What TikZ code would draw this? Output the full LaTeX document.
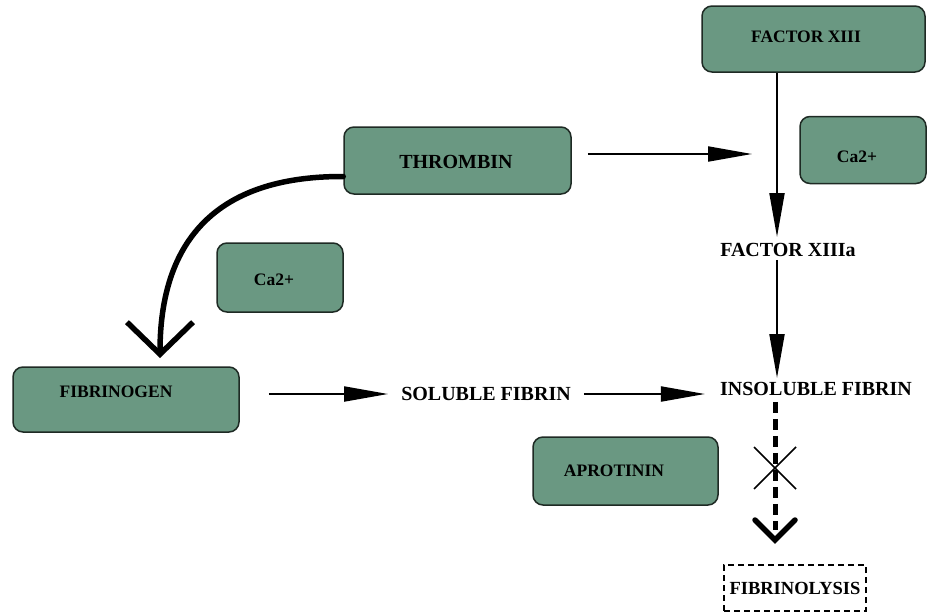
\documentclass[tikz,border=0pt]{standalone}
\usepackage{fontspec}
\setmainfont{Liberation Serif}
\usetikzlibrary{arrows.meta,calc}
\definecolor{boxgreen}{RGB}{106,152,130}
\definecolor{boxedge}{RGB}{30,42,36}
\begin{document}
\begin{tikzpicture}[x=1pt,y=-1pt,
  gbox/.style={draw=boxedge,fill=boxgreen,line width=1.5pt,rounded corners=10pt,inner sep=0pt},
  btxt/.style={inner sep=0pt,font=\fontsize{17.5}{20}\selectfont\bfseries},
  lbl/.style={inner sep=0pt,font=\fontsize{20}{24}\selectfont\bfseries},
  arr/.style={line width=2pt,-{Triangle[length=44pt,width=15pt]}},
  chev/.style={line width=5.5pt,line cap=round,line join=miter}]
\useasboundingbox (0,0) rectangle (928,613);
% boxes
\node[gbox,minimum width=223pt,minimum height=66pt] (f13) at (813.5,39) {};
\node[btxt] (f13t) at (806,37) {FACTOR XIII};
\node[gbox,minimum width=126pt,minimum height=67pt] (ca1) at (863,150) {};
\node[btxt] (ca1t) at (857,157) {Ca2+};
\node[gbox,minimum width=227pt,minimum height=67pt] (thr) at (457.5,160.5) {};
\node[lbl] (thrt) at (456,162) {THROMBIN};
\node[gbox,minimum width=126pt,minimum height=69pt] (ca2) at (280,277.5) {};
\node[btxt] (ca2t) at (274,280) {Ca2+};
\node[gbox,minimum width=226pt,minimum height=65pt] (fbg) at (126,399.5) {};
\node[btxt] (fbgt) at (116,392) {FIBRINOGEN};
\node[gbox,minimum width=185pt,minimum height=68pt] (apr) at (625.5,471) {};
\node[btxt] (aprt) at (614,471) {APROTININ};
\node[draw,line width=1.5pt,dash pattern=on 6pt off 4pt,inner sep=0pt,
  minimum width=142pt,minimum height=46pt,font=\fontsize{18.5}{22}\selectfont\bfseries] (fly) at (795,588) {FIBRINOLYSIS};
% labels
\node[lbl] (sol) at (486,394) {SOLUBLE FIBRIN};
\node[lbl] (ins) at (816,389) {INSOLUBLE FIBRIN};
\node[lbl] (f13a) at (788,250) {FACTOR XIIIa};
% coordinates
\coordinate (t1) at (752,154);
\coordinate (v1) at (777,237);
\coordinate (v2) at (777,378);
\coordinate (d1) at (775,540);
\coordinate (xc) at (775,468);
\coordinate (c1) at (160,358);
% arrows
\draw[arr,shorten <=16pt] (thr.east |- t1) -- (t1);
\draw[arr] (f13.south -| v1) -- (v1);
\draw[arr,shorten <=3pt] (f13a.south -| v2) -- (v2);
\draw[arr,shorten <=29pt,shorten >=13pt] (fbg.east |- sol) -- (sol.west);
\draw[arr,shorten <=13pt,shorten >=15pt] (sol.east) -- (sol.east -| ins.west);
% dashed inhibited path
\draw[line width=5pt,dash pattern=on 11pt off 6pt] ([yshift=-6pt]ins.south -| d1) -- ([yshift=10pt]d1);
\draw[chev] (d1) ++(-20,-20) -- (d1) -- ++(20,-20);
\draw[line width=1.6pt] (xc) ++(-21,-21) -- ++(42,42);
\draw[line width=1.6pt] (xc) ++(-21,21) -- ++(42,-42);
% curved arrow
\draw[line width=5.5pt,line cap=round,-{Straight Barb[length=32pt,width=66pt]}]
  ([yshift=-16pt]thr.west) .. controls (212,176) and (160,245) .. (c1);
\end{tikzpicture}
\end{document}
